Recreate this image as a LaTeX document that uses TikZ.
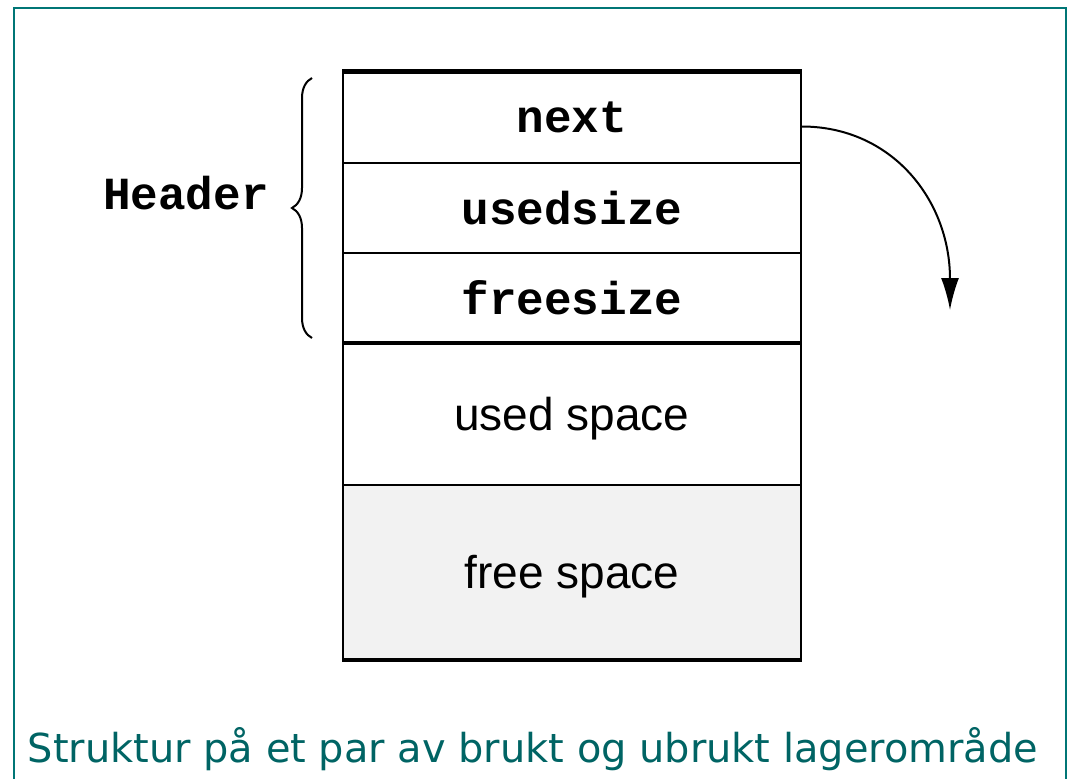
\documentclass[tikz,border=0pt]{standalone}
\usepackage{fontspec}
\setmainfont{DejaVu Sans}
\setsansfont{Liberation Sans}
\setmonofont{Liberation Mono}
\usetikzlibrary{arrows.meta,decorations.pathreplacing}
\definecolor{ramme}{RGB}{0,118,118}
\definecolor{tittel}{RGB}{0,100,100}
\begin{document}
\begin{tikzpicture}[x=1pt,y=-1pt]
  \tikzstyle{felt}=[draw=black, line width=1.5pt, minimum width=458pt,
  inner sep=0pt, text=black, font=\fontsize{46}{46}\selectfont\ttfamily\bfseries]
  \tikzstyle{rom}=[felt, text depth=0pt, font=\fontsize{46}{46}\selectfont\sffamily]
  \tikzstyle{tykk}=[line width=4.5pt]
  \tikzstyle{pil}=[-{Latex[length=32pt,width=18pt]},line width=2pt]
  \useasboundingbox (0,0) rectangle (1069,779);
  \draw[ramme, line width=2pt] (14,800) -- (14,8) -- (1066,8) -- (1066,800);
  \foreach \n/\y/\h/\t in {next/117.5/91/next,used/208/90/usedsize,free/297.5/89/freesize} {
    \draw (572,\y) node[felt, minimum height=\h pt] (\n) {\t};
  }
  \draw (572,413.5) node[rom, minimum height=143pt] (brukt) {used space};
  \draw (572,572) node[rom, minimum height=174pt, fill=black!5] (ledig) {free space};
  \draw[tykk] (next.north west) -- (next.north east);
  \draw[tykk] (free.south west) -- (free.south east);
  \draw[tykk] (ledig.south west) -- (ledig.south east);
  \draw (186,193) node[font=\fontsize{46}{46}\selectfont\ttfamily\bfseries] (header) {Header};
  \coordinate (klammened) at (312,338);
  \coordinate (klammeopp) at (312,78);
  \draw[decorate, decoration={brace, amplitude=20pt}, line width=2pt] (klammened) -- (klammeopp);
  \coordinate (pilslutt) at (950,310);
  \draw[pil] ([yshift=-9pt]next.east) .. controls +(90,0) and +(0,-110) .. (pilslutt);
  \draw (533,762) node[anchor=base, text=tittel, font=\fontsize{39.9}{39.9}\selectfont] (tekst)
    {Struktur på et par av brukt og ubrukt lagerområde};
\end{tikzpicture}
\end{document}
